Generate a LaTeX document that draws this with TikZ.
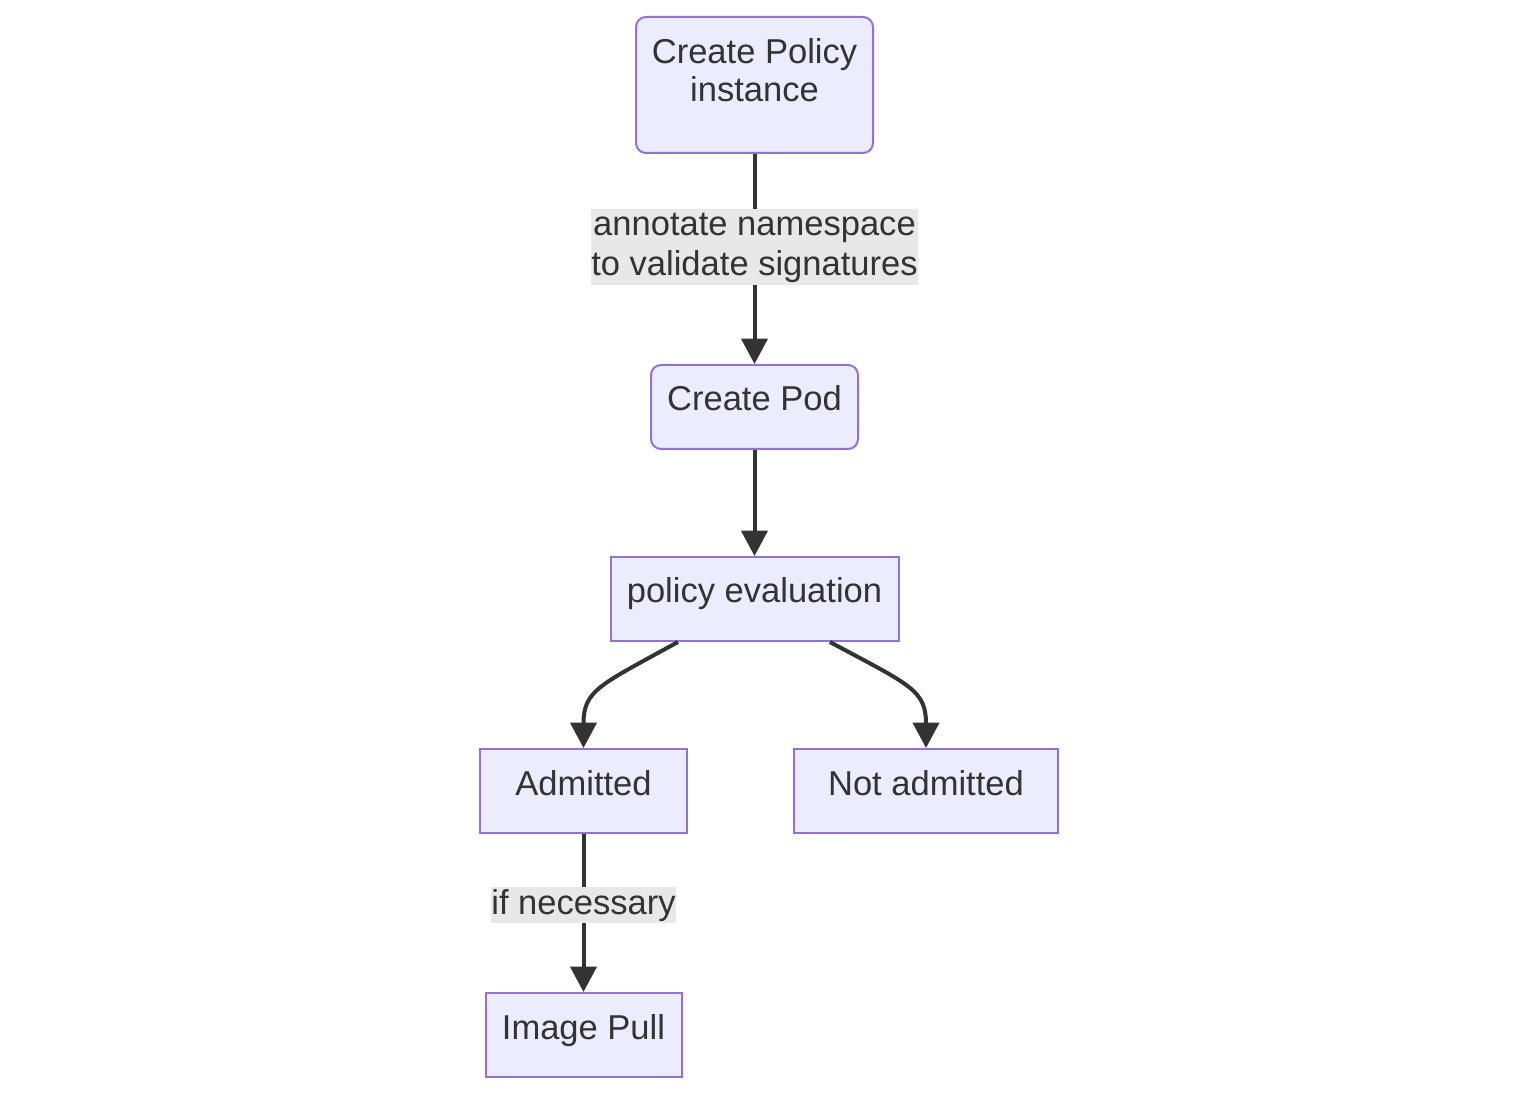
\documentclass[tikz,border=0pt]{standalone}
\usepackage{fontspec}
\setmainfont{Liberation Sans}
\usetikzlibrary{arrows.meta,calc}
\definecolor{nodefill}{HTML}{ECECFF}
\definecolor{nodeline}{HTML}{9370DB}
\definecolor{ink}{HTML}{333333}
\definecolor{lblbg}{HTML}{E8E8E8}
\begin{document}
\begin{tikzpicture}[x=0.75pt,y=-0.75pt,
  box/.style={draw=nodeline, fill=nodefill, line width=1.5pt, inner sep=0pt, minimum height=63pt},
  rbox/.style={box, rounded corners=7.5pt},
  txt/.style={text=ink, font=\fontsize{25.9pt}{28.8pt}\selectfont, inner sep=0pt, anchor=base, align=center},
  lbl/.style={fill=lblbg, text=ink, font=\fontsize{25.9pt}{30pt}\selectfont, inner sep=0pt, align=center},
  edge/.style={draw=ink, line width=3pt, -{Triangle[length=19pt,width=19.5pt]}}
]
\fill[white] (0,0) rectangle (1539,1094);
\useasboundingbox (0,0) rectangle (1539,1094);

\node[rbox, minimum width=177.75pt, minimum height=102pt] (pol) at (754.5,85) {};
\node[rbox, minimum width=155.25pt] (pod) at (754.5,407) {};
\node[box, minimum width=216pt] (eval) at (754.5,599) {};
\node[box, minimum width=155.25pt] (adm) at (583.5,791) {};
\node[box, minimum width=198pt] (nadm) at (926,791) {};
\node[box, minimum width=147pt] (pull) at (583.5,1035) {};

\node[txt] (polt) at (754.5,101.7) {Create Policy\\instance};
\node[txt] (podt) at (754.5,411) {Create Pod};
\node[txt] (evalt) at (754.5,603) {policy evaluation};
\node[txt] (admt) at (583.5,795) {Admitted};
\node[txt] (nadmt) at (926,795) {Not admitted};
\node[txt] (pullt) at (583.5,1039) {Image Pull};

\draw[edge] (pol.south) -- (pod.north)
  node[lbl, pos=0.445, minimum width=243.75pt, minimum height=57pt] (l1) {annotate namespace\\to validate signatures};
\draw[edge] (pod.south) -- (eval.north);
\draw[edge] ($(eval.south west)!0.236!(eval.south east)$) .. controls (600,685) and (583.5,690) .. (adm.north);
\draw[edge] ($(eval.south west)!0.76!(eval.south east)$) .. controls (910,685) and (926,690) .. (nadm.north);
\draw[edge] (adm.south) -- (pull.north)
  node[lbl, pos=0.45, minimum height=27pt] (l2) {if necessary};
\end{tikzpicture}
\end{document}
